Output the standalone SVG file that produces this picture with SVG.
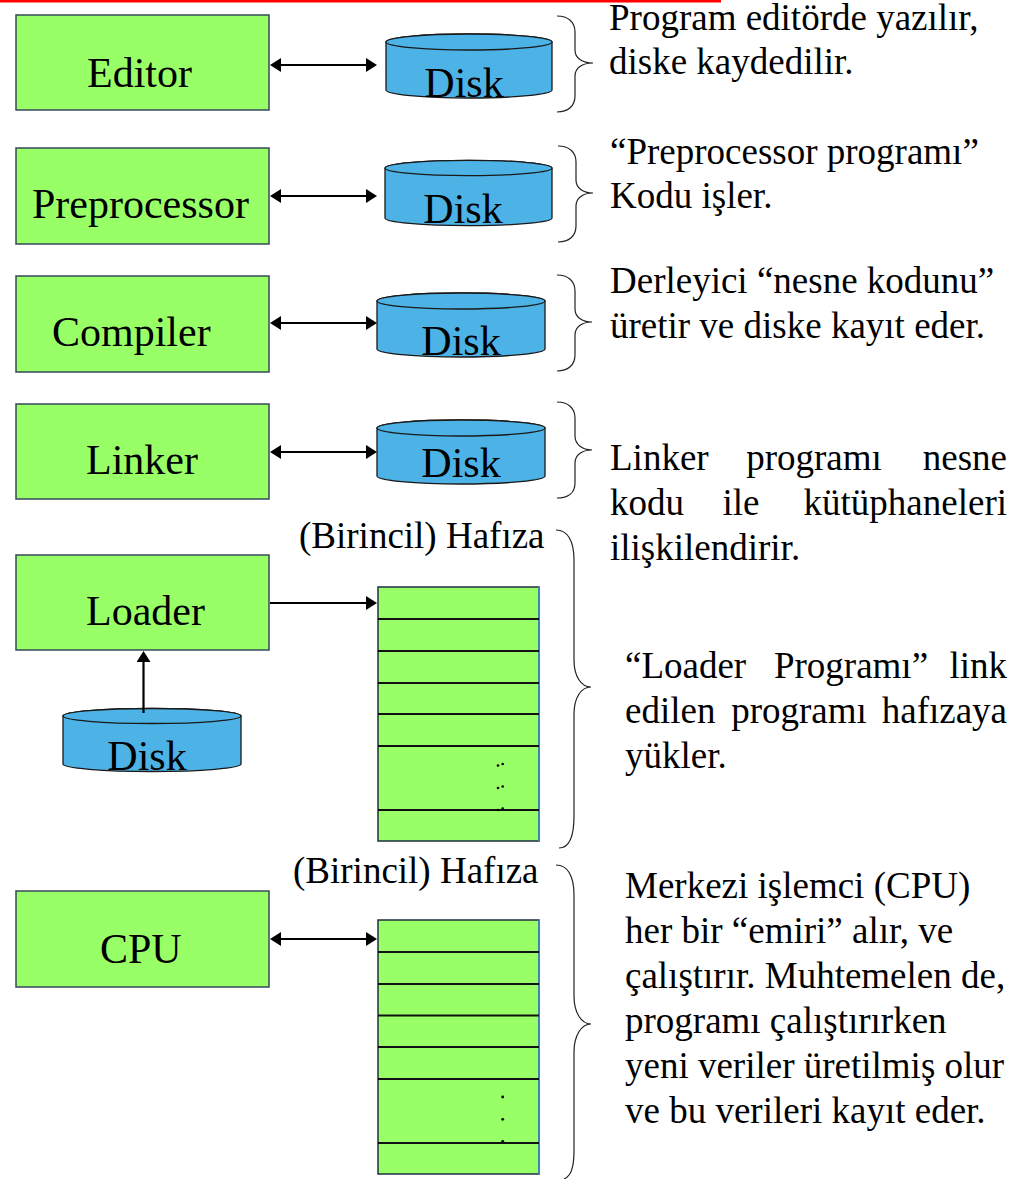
<svg xmlns="http://www.w3.org/2000/svg" width="1025" height="1179" viewBox="0 0 1025 1179">
<style>
.box{fill:#99FF66;stroke:#34495a;stroke-width:1.5}
.lbl{font-family:"Liberation Serif","Times New Roman",serif;font-size:42px;fill:#000}
.txt{font-family:"Liberation Serif","Times New Roman",serif;font-size:37px;fill:#000}
.disk{fill:#4DB2E6;stroke:#1a1a1a;stroke-width:1.3}
.mem{fill:#99FF66;stroke:#1f2f40;stroke-width:1.5}
.row{stroke:#111;stroke-width:2}
.conn{stroke:#000;stroke-width:2.2;fill:none}
.brace{stroke:#222;stroke-width:1.2;fill:none}
</style>
<defs>
<marker id="ah" markerUnits="userSpaceOnUse" markerWidth="13" markerHeight="15" refX="2" refY="7" orient="auto-start-reverse">
<path d="M0,0 L11,7 L0,14 z" fill="#000"/>
</marker>
</defs>
<rect x="0" y="0" width="721" height="2.5" fill="#FF0000"/>

<g id="editor"><rect class="box" x="16" y="15" width="253" height="95"/><text class="lbl" x="87" y="87">Editor</text></g>
<g id="preprocessor"><rect class="box" x="16" y="148" width="253" height="96"/><text class="lbl" x="32" y="218">Preprocessor</text></g>
<g id="compiler"><rect class="box" x="16" y="276" width="253" height="96"/><text class="lbl" x="52" y="346">Compiler</text></g>
<g id="linker"><rect class="box" x="16" y="404" width="253" height="95"/><text class="lbl" x="86" y="474">Linker</text></g>
<g id="loader"><rect class="box" x="16" y="555" width="253" height="95"/><text class="lbl" x="86" y="625">Loader</text></g>
<g id="cpu"><rect class="box" x="16" y="891" width="253" height="96"/><text class="lbl" x="100" y="963">CPU</text></g>

<g id="disk1"><path class="disk" d="M386,42 A83,8 0 0 1 552,42 L552,90 A83,8 0 0 1 386,90 Z"/><ellipse class="disk" cx="469" cy="42" rx="83" ry="8"/><text class="lbl" x="464" y="97" text-anchor="middle">Disk</text></g>
<g id="disk2"><path class="disk" d="M385,168 A83.5,7.7 0 0 1 552,168 L552,218 A83.5,7.7 0 0 1 385,218 Z"/><ellipse class="disk" cx="468.5" cy="168" rx="83.5" ry="7.7"/><text class="lbl" x="463" y="223" text-anchor="middle">Disk</text></g>
<g id="disk3"><path class="disk" d="M377,301 A84,8 0 0 1 545,301 L545,349 A84,8 0 0 1 377,349 Z"/><ellipse class="disk" cx="461" cy="301" rx="84" ry="8"/><text class="lbl" x="461" y="355" text-anchor="middle">Disk</text></g>
<g id="disk4"><path class="disk" d="M377,428 A84,8 0 0 1 545,428 L545,476 A84,8 0 0 1 377,476 Z"/><ellipse class="disk" cx="461" cy="428" rx="84" ry="8"/><text class="lbl" x="461" y="477" text-anchor="middle">Disk</text></g>
<g id="disk5"><path class="disk" d="M63,716 A89,7.5 0 0 1 241,716 L241,764 A89,7.5 0 0 1 63,764 Z"/><ellipse class="disk" cx="152" cy="716" rx="89" ry="7.5"/><text class="lbl" x="147" y="770" text-anchor="middle">Disk</text></g>

<g id="memory1">
<text class="txt" x="299" y="548">(Birincil) Hafıza</text>
<rect class="mem" x="378" y="587" width="161" height="254"/>
<line x1="539" y1="587" x2="539" y2="841" stroke="#3d8fd6" stroke-width="1.5"/>
<line class="row" x1="378" y1="619" x2="539" y2="619"/>
<line class="row" x1="378" y1="651" x2="539" y2="651"/>
<line class="row" x1="378" y1="683" x2="539" y2="683"/>
<line class="row" x1="378" y1="714" x2="539" y2="714"/>
<line class="row" x1="378" y1="746" x2="539" y2="746"/>
<line class="row" x1="378" y1="810" x2="539" y2="810"/>
<g fill="#000"><circle cx="498" cy="765.5" r="1.3"/><circle cx="502.7" cy="764" r="1.3"/><circle cx="498" cy="788" r="1.3"/><circle cx="502.7" cy="786.5" r="1.3"/><circle cx="498" cy="810" r="1.3"/><circle cx="502.7" cy="808.5" r="1.3"/></g>
</g>

<g id="memory2">
<text class="txt" x="293" y="883">(Birincil) Hafıza</text>
<rect class="mem" x="378" y="920" width="161" height="254"/>
<line x1="539" y1="920" x2="539" y2="1174" stroke="#3d8fd6" stroke-width="1.5"/>
<line class="row" x1="378" y1="952" x2="539" y2="952"/>
<line class="row" x1="378" y1="984" x2="539" y2="984"/>
<line class="row" x1="378" y1="1015.5" x2="539" y2="1015.5"/>
<line class="row" x1="378" y1="1047" x2="539" y2="1047"/>
<line class="row" x1="378" y1="1079" x2="539" y2="1079"/>
<line class="row" x1="378" y1="1143" x2="539" y2="1143"/>
<g fill="#000"><circle cx="502.7" cy="1097" r="1.4"/><circle cx="502.7" cy="1119.3" r="1.4"/><circle cx="502.7" cy="1141.3" r="1.4"/></g>
</g>

<g id="connectors">
<line class="conn" x1="279" y1="65" x2="368" y2="65" marker-start="url(#ah)" marker-end="url(#ah)"/>
<line class="conn" x1="279" y1="196" x2="368" y2="196" marker-start="url(#ah)" marker-end="url(#ah)"/>
<line class="conn" x1="279" y1="323" x2="368" y2="323" marker-start="url(#ah)" marker-end="url(#ah)"/>
<line class="conn" x1="279" y1="452" x2="368" y2="452" marker-start="url(#ah)" marker-end="url(#ah)"/>
<line class="conn" x1="270" y1="603" x2="368" y2="603" marker-end="url(#ah)"/>
<line class="conn" x1="143.5" y1="713" x2="143.5" y2="660" marker-end="url(#ah)"/>
<line class="conn" x1="279" y1="939" x2="368" y2="939" marker-start="url(#ah)" marker-end="url(#ah)"/>
</g>

<g id="braces">
<path class="brace" d="M557,16 C568,16 575,22 575,32 L575,50 C575,58 582,63 593,63 C582,63 575,68 575,76 L575,96 C575,106 568,112 557,112"/>
<path class="brace" d="M558,146 C569,146 576,152 576,162 L576,180 C576,188 583,193 593,193 C583,193 576,198 576,206 L576,226 C576,236 569,242 558,242"/>
<path class="brace" d="M557,275 C568,275 575,281 575,291 L575,309 C575,317 582,322 592,322 C582,322 575,327 575,335 L575,355 C575,365 568,371 557,371"/>
<path class="brace" d="M557,402 C568,402 575,408 575,418 L575,436 C575,444 582,450 592,450 C582,450 575,455 575,463 L575,483 C575,493 568,498 557,498"/>
<path class="brace" d="M556,530 C567,530 574,540 574,560 L574,660 C574,676 581,687 591,687 C581,687 574,698 574,714 L574,816 C574,836 569,848 559,848"/>
<path class="brace" d="M556,865 C567,865 574,875 574,895 L574,996 C574,1012 581,1024 591,1024 C581,1024 574,1036 574,1052 L574,1150 C574,1168 571,1176 564,1179"/>
</g>

<g id="notes">
<text class="txt" x="609" y="30">Program editörde yazılır,</text>
<text class="txt" x="609" y="74">diske kaydedilir.</text>
<text class="txt" x="610" y="164">“Preprocessor programı”</text>
<text class="txt" x="610" y="208">Kodu işler.</text>
<text class="txt" x="610" y="293">Derleyici “nesne kodunu”</text>
<text class="txt" x="610" y="338">üretir ve diske kayıt eder.</text>
<text class="txt" x="610" y="470">Linker</text><text class="txt" x="814" y="470" text-anchor="middle">programı</text><text class="txt" x="1007" y="470" text-anchor="end">nesne</text>
<text class="txt" x="610" y="515">kodu</text><text class="txt" x="741" y="515" text-anchor="middle">ile</text><text class="txt" x="1007" y="515" text-anchor="end">kütüphaneleri</text>
<text class="txt" x="610" y="560">ilişkilendirir.</text>
<text class="txt" x="625" y="678">“Loader</text><text class="txt" x="851" y="678" text-anchor="middle">Programı”</text><text class="txt" x="1007" y="678" text-anchor="end">link</text>
<text class="txt" x="625" y="723">edilen</text><text class="txt" x="799" y="723" text-anchor="middle">programı</text><text class="txt" x="1007" y="723" text-anchor="end">hafızaya</text>
<text class="txt" x="625" y="768">yükler.</text>
<text class="txt" x="625" y="898">Merkezi işlemci (CPU)</text>
<text class="txt" x="625" y="943">her bir “emiri” alır, ve</text>
<text class="txt" x="625" y="988">çalıştırır. Muhtemelen de,</text>
<text class="txt" x="625" y="1033">programı çalıştırırken</text>
<text class="txt" x="625" y="1078">yeni veriler üretilmiş olur</text>
<text class="txt" x="625" y="1123">ve bu verileri kayıt eder.</text>
</g>
</svg>
